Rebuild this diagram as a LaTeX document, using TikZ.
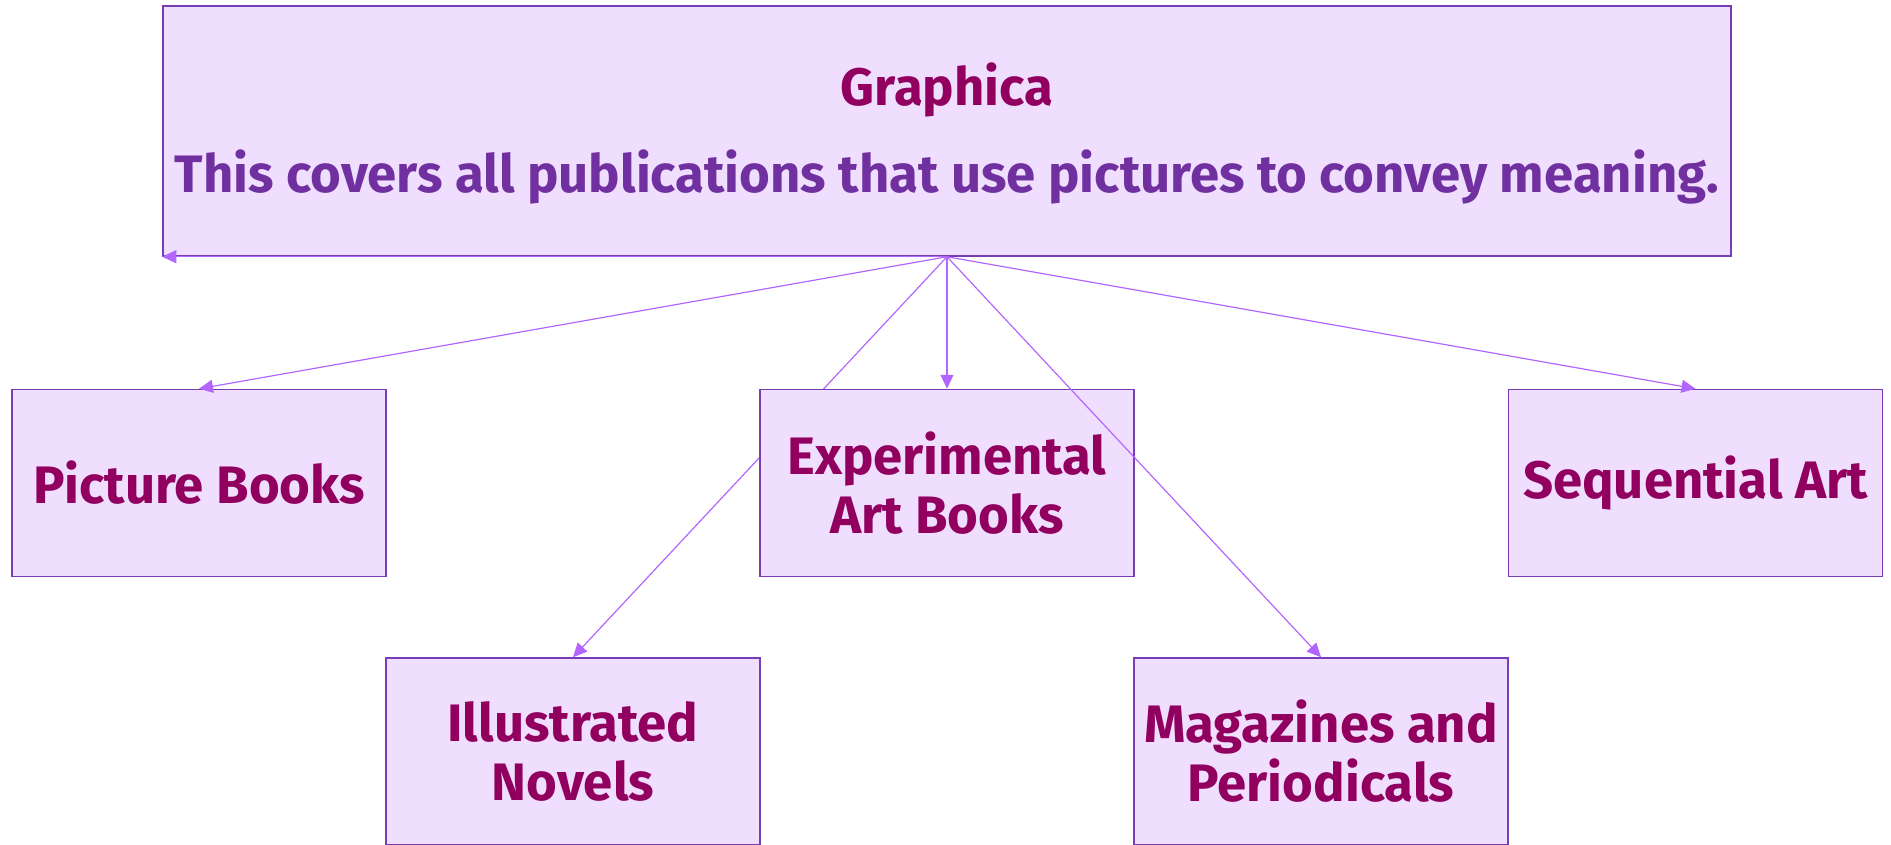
\documentclass[tikz,border=0pt]{standalone}
\usepackage{fontspec}
\setmainfont{Fira Sans}
\usetikzlibrary{arrows.meta,backgrounds}
\definecolor{boxfill}{RGB}{240,222,255}
\definecolor{boxdraw}{RGB}{120,60,180}
\definecolor{arrowc}{RGB}{178,102,255}
\definecolor{titlec}{RGB}{145,0,95}
\definecolor{descc}{RGB}{112,48,160}
\tikzset{
  catbox/.style={draw=boxdraw, fill=boxfill, line width=1.5pt, rectangle,
    minimum width=374pt, minimum height=187pt, inner sep=0pt, align=center,
    text=titlec, font=\fontsize{52.7}{59}\selectfont\bfseries},
  rootbox/.style={catbox, minimum width=1568pt, minimum height=250pt},
  conn/.style={draw=arrowc, line width=1.2pt, -{Triangle[length=14pt,width=13pt]}}
}
\begin{document}
\begin{tikzpicture}[x=1pt,y=-1pt]
\useasboundingbox (0,0) rectangle (1891,844);
\node[rootbox] (root) at (947,131) {\rule{0pt}{48pt}Graphica\\[28pt]\textcolor{descc}{This covers all publications that use pictures to convey meaning.}};
\node[catbox] (pb) at (199,483) {Picture Books};
\node[catbox] (eab) at (947,483) {Experimental\\Art Books};
\node[catbox] (sa) at (1695.5,483) {Sequential Art};
\node[catbox] (in) at (573,751.5) {Illustrated\\Novels};
\node[catbox] (mp) at (1321,751.5) {Magazines and\\Periodicals};
\begin{pgfonlayer}{background}
\draw[conn] (root.south) -- (in.north);
\end{pgfonlayer}
\draw[conn] (root.south) -- (root.south west);
\draw[conn] (root.south) -- (pb.north);
\draw[conn] (root.south) -- (eab.north);
\draw[conn] (root.south) -- (sa.north);
\draw[conn] (root.south) -- (mp.north);
\end{tikzpicture}
\end{document}
